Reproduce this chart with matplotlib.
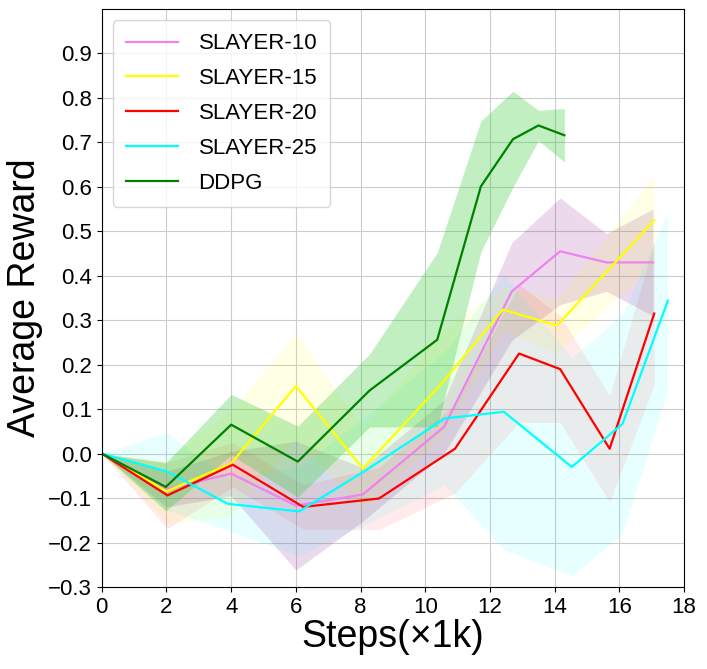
import numpy as np
import matplotlib
matplotlib.use('Agg')
import matplotlib.pyplot as plt

plt.rcParams['font.family'] = ['Liberation Sans', 'DejaVu Sans']

# SLAYER-10
s10_x = [0, 2.0, 4.0, 6.0, 8.07, 10.58, 12.68, 14.17, 15.6, 17.04]
s10_y = [0, -0.080, -0.045, -0.117, -0.092, 0.060, 0.365, 0.455, 0.430, 0.430]
s10_std = [0, 0.04, 0.05, 0.145, 0.06, 0.06, 0.11, 0.12, 0.065, 0.12]

# SLAYER-15
s15_x = [0, 2.0, 4.0, 6.0, 8.07, 10.5, 12.4, 14.07, 17.08]
s15_y = [0, -0.085, -0.022, 0.152, -0.034, 0.157, 0.324, 0.288, 0.525]
s15_std = [0, 0.07, 0.12, 0.12, 0.09, 0.12, 0.05, 0.06, 0.10]

# SLAYER-20
s20_x = [0, 2.03, 4.05, 6.23, 8.57, 10.92, 12.9, 14.17, 15.7, 17.08]
s20_y = [0, -0.094, -0.025, -0.120, -0.101, 0.011, 0.225, 0.190, 0.011, 0.315]
s20_std = [0, 0.075, 0.05, 0.05, 0.07, 0.10, 0.155, 0.12, 0.12, 0.16]

# SLAYER-25
s25_x = [0, 2.0, 3.9, 6.1, 8.07, 10.6, 12.43, 14.53, 16.1, 17.5]
s25_y = [0, -0.040, -0.113, -0.130, -0.042, 0.079, 0.094, -0.030, 0.067, 0.344]
s25_std = [0, 0.087, 0.06, 0.10, 0.12, 0.15, 0.31, 0.245, 0.247, 0.20]

# DDPG
ddpg_x = [0, 1.98, 4.0, 6.06, 8.28, 10.37, 11.72, 12.71, 13.5, 14.3]
ddpg_y = [0, -0.075, 0.065, -0.018, 0.142, 0.256, 0.601, 0.707, 0.738, 0.716]
ddpg_std = [0, 0.054, 0.068, 0.08, 0.082, 0.196, 0.147, 0.108, 0.034, 0.06]

series = [
    ('SLAYER-10', s10_x, s10_y, s10_std, 'violet', 'purple', 0.15),
    ('SLAYER-15', s15_x, s15_y, s15_std, 'yellow', 'yellow', 0.1),
    ('SLAYER-20', s20_x, s20_y, s20_std, 'red', 'red', 0.08),
    ('SLAYER-25', s25_x, s25_y, s25_std, 'cyan', 'cyan', 0.09),
    ('DDPG', ddpg_x, ddpg_y, ddpg_std, 'green', 'limegreen', 0.3),
]

fig = plt.figure(figsize=(7.07, 6.69), dpi=100)
ax1 = fig.add_axes([0.144, 0.1226, 0.8235, 0.864])

for name, x, y, std, c, fc, a in series:
    x = np.array(x)
    y = np.array(y)
    std = np.array(std)
    ax1.fill_between(x, y - std, y + std, color=fc, alpha=a, linewidth=0)
    ax1.plot(x, y, color=c, linewidth=1.6, label=name)

ax1.set_xlim(0, 18)
ax1.set_ylim(-0.3, 1.0)
ax1.set_xticks(np.arange(0, 19, 2))
ax1.set_yticks(np.round(np.arange(-0.3, 0.95, 0.1), 1))
ax1.tick_params(labelsize=16)
ax1.grid(True, color='#cccccc', linewidth=0.8)
ax1.set_axisbelow(True)
ax1.set_xlabel('Steps(×1k)', fontsize=27, labelpad=1)
ax1.set_ylabel('Average Reward', fontsize=27, labelpad=4)
ax1.legend(loc='upper left', fontsize=16, handlelength=2.35, handletextpad=0.9,
           labelspacing=0.62, borderpad=0.6)

fig.savefig('out.png', dpi=100)
